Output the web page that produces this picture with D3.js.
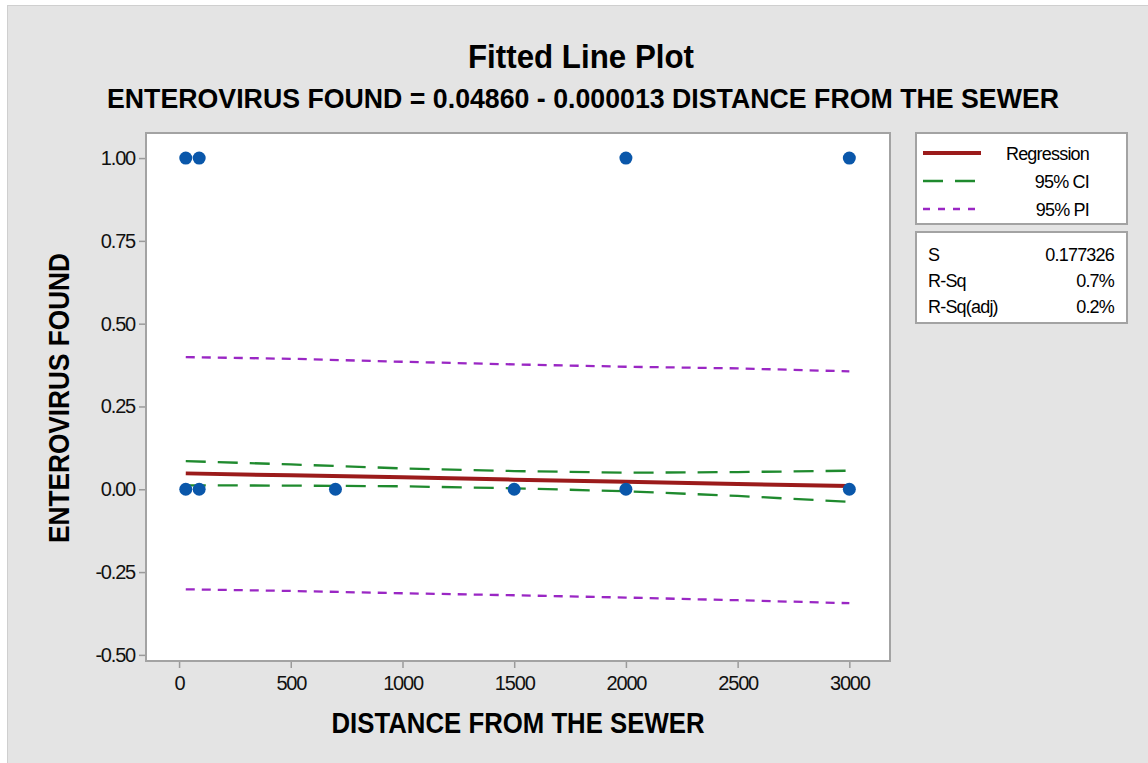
<!DOCTYPE html>
<html>
<head>
<meta charset="utf-8">
<script src="https://cdn.jsdelivr.net/npm/d3@7"></script>
<style>
  body { margin: 0; background: #fff; }
  svg { display: block; font-family: "Liberation Sans", Arial, sans-serif; }
</style>
</head>
<body>
<div id="chart"></div>
<script>
const width = 1148;
const height = 763;

// observed points (many overlap in the original)
const pointX = [30, 90, 700, 1500, 2000, 3000, 30, 90, 2000, 3000];
const pointY = [0, 0, 0, 0, 0, 0, 1, 1, 1, 1];

// fitted line and bands
const fitX = [30, 500, 1000, 1500, 2000, 2500, 3000];
const fitY = [0.048, 0.042, 0.036, 0.029, 0.023, 0.016, 0.010];
const ciUpper = [0.085, 0.075, 0.063, 0.055, 0.050, 0.052, 0.056];
const ciLower = [0.012, 0.011, 0.009, 0.003, -0.006, -0.020, -0.038];
const piUpper = [0.399, 0.394, 0.385, 0.377, 0.370, 0.365, 0.356];
const piLower = [-0.302, -0.307, -0.314, -0.320, -0.327, -0.335, -0.344];

const xTicks = [0, 500, 1000, 1500, 2000, 2500, 3000];
const yTicks = [-0.5, -0.25, 0, 0.25, 0.5, 0.75, 1];

const statLabels = ["S", "R-Sq", "R-Sq(adj)"];
const statValues = ["0.177326", "0.7%", "0.2%"];

const legendItems = [
  {name: "Regression", color: "#9b1b1b", dash: null, w: 4},
  {name: "95% CI", color: "#1f8a2e", dash: "20,12", w: 2.3},
  {name: "95% PI", color: "#9a27c4", dash: "9,7", w: 2.3}
];

const plot = {left: 146, right: 890, top: 133, bottom: 661};

const x = d3.scaleLinear().domain([-148, 3182]).range([plot.left, plot.right]);
const y = d3.scaleLinear().domain([-0.5185, 1.0757]).range([plot.bottom, plot.top]);

const svg = d3.select("#chart").append("svg")
    .attr("width", width)
    .attr("height", height);

// outer panel
svg.append("rect")
    .attr("x", 7.5).attr("y", 5.5)
    .attr("width", width).attr("height", height)
    .attr("fill", "#e4e4e4")
    .attr("stroke", "#cfcfcf");

// plot area
svg.append("rect")
    .attr("x", plot.left).attr("y", plot.top)
    .attr("width", plot.right - plot.left).attr("height", plot.bottom - plot.top)
    .attr("fill", "#fff")
    .attr("stroke", "#a3a3a3")
    .attr("stroke-width", 2);

// titles
svg.append("text")
    .attr("x", 581).attr("y", 68)
    .attr("text-anchor", "middle")
    .attr("textLength", 226).attr("lengthAdjust", "spacingAndGlyphs")
    .style("font-size", "33px").style("font-weight", "bold")
    .text("Fitted Line Plot");

svg.append("text")
    .attr("x", 583).attr("y", 108)
    .attr("text-anchor", "middle")
    .attr("textLength", 952).attr("lengthAdjust", "spacingAndGlyphs")
    .style("font-size", "27px").style("font-weight", "bold")
    .text("ENTEROVIRUS FOUND =  0.04860 - 0.000013 DISTANCE FROM  THE SEWER");

// axes
const xAxis = svg.append("g")
    .attr("transform", `translate(0,${plot.bottom + 1})`)
    .call(d3.axisBottom(x).tickValues(xTicks).tickSize(6).tickPadding(8).tickFormat(d3.format("d")));

const yAxis = svg.append("g")
    .attr("transform", `translate(${plot.left - 1},0)`)
    .call(d3.axisLeft(y).tickValues(yTicks).tickSize(6).tickPadding(4).tickFormat(d3.format(".2f")));

[xAxis, yAxis].forEach(ax => {
  ax.select(".domain").remove();
  ax.selectAll(".tick line").attr("stroke", "#9a9a9a").attr("stroke-width", 1.5);
  ax.selectAll(".tick text")
    .attr("fill", "#111")
    .style("font-family", "'Liberation Sans', Arial, sans-serif")
    .style("font-size", "20px")
    .style("letter-spacing", "-1.2px");
});
yAxis.selectAll(".tick text").text(d => d < 0 ? "-" + d3.format(".2f")(-d) : d3.format(".2f")(d));

svg.append("text")
    .attr("x", 518).attr("y", 733)
    .attr("text-anchor", "middle")
    .attr("textLength", 373).attr("lengthAdjust", "spacingAndGlyphs")
    .style("font-size", "29px").style("font-weight", "bold")
    .text("DISTANCE FROM  THE SEWER");

svg.append("text")
    .attr("transform", `translate(69,398) rotate(-90)`)
    .attr("text-anchor", "middle")
    .attr("textLength", 290).attr("lengthAdjust", "spacingAndGlyphs")
    .style("font-size", "29px").style("font-weight", "bold")
    .text("ENTEROVIRUS FOUND");

// lines
const line = vals => d3.line().x((d, i) => x(fitX[i])).y(d => y(d))(vals);

const bands = [
  {vals: piUpper, item: legendItems[2]},
  {vals: piLower, item: legendItems[2]},
  {vals: ciUpper, item: legendItems[1]},
  {vals: ciLower, item: legendItems[1]},
  {vals: fitY, item: legendItems[0]}
];

svg.append("g").selectAll("path")
    .data(bands)
    .join("path")
    .attr("d", d => line(d.vals))
    .attr("fill", "none")
    .attr("stroke", d => d.item.color)
    .attr("stroke-width", d => d.item.w)
    .attr("stroke-dasharray", d => d.item.dash);

// points
svg.append("g").selectAll("circle")
    .data(pointX)
    .join("circle")
    .attr("cx", d => x(d))
    .attr("cy", (d, i) => y(pointY[i]))
    .attr("r", 6.5)
    .attr("fill", "#0a57aa");

// legend box
svg.append("rect")
    .attr("x", 916).attr("y", 133)
    .attr("width", 211).attr("height", 91)
    .attr("fill", "#fff").attr("stroke", "#a3a3a3").attr("stroke-width", 2);

const legend = svg.append("g").selectAll("g")
    .data(legendItems)
    .join("g")
    .attr("transform", (d, i) => `translate(0,${153 + i * 28})`);

legend.append("line")
    .attr("x1", 923).attr("x2", 981)
    .attr("stroke", d => d.color)
    .attr("stroke-width", d => d.w)
    .attr("stroke-dasharray", d => d.dash === null ? null : (d.name === "95% CI" ? "20,12" : "7,8"));

legend.append("text")
    .attr("x", 1089).attr("y", 7)
    .attr("text-anchor", "end")
    .style("font-size", "18px")
    .style("letter-spacing", "-0.8px")
    .text(d => d.name);

// stats box
svg.append("rect")
    .attr("x", 916).attr("y", 232)
    .attr("width", 211).attr("height", 91)
    .attr("fill", "#fff").attr("stroke", "#a3a3a3").attr("stroke-width", 2);

const stats = svg.append("g").selectAll("g")
    .data(statLabels)
    .join("g")
    .attr("transform", (d, i) => `translate(0,${261 + i * 26})`);

stats.append("text")
    .attr("x", 928)
    .style("font-size", "18px")
    .style("letter-spacing", "-0.8px")
    .text(d => d);

stats.append("text")
    .attr("x", 1114)
    .attr("text-anchor", "end")
    .style("font-size", "18px")
    .style("letter-spacing", "-0.8px")
    .text((d, i) => statValues[i]);
</script>
</body>
</html>
